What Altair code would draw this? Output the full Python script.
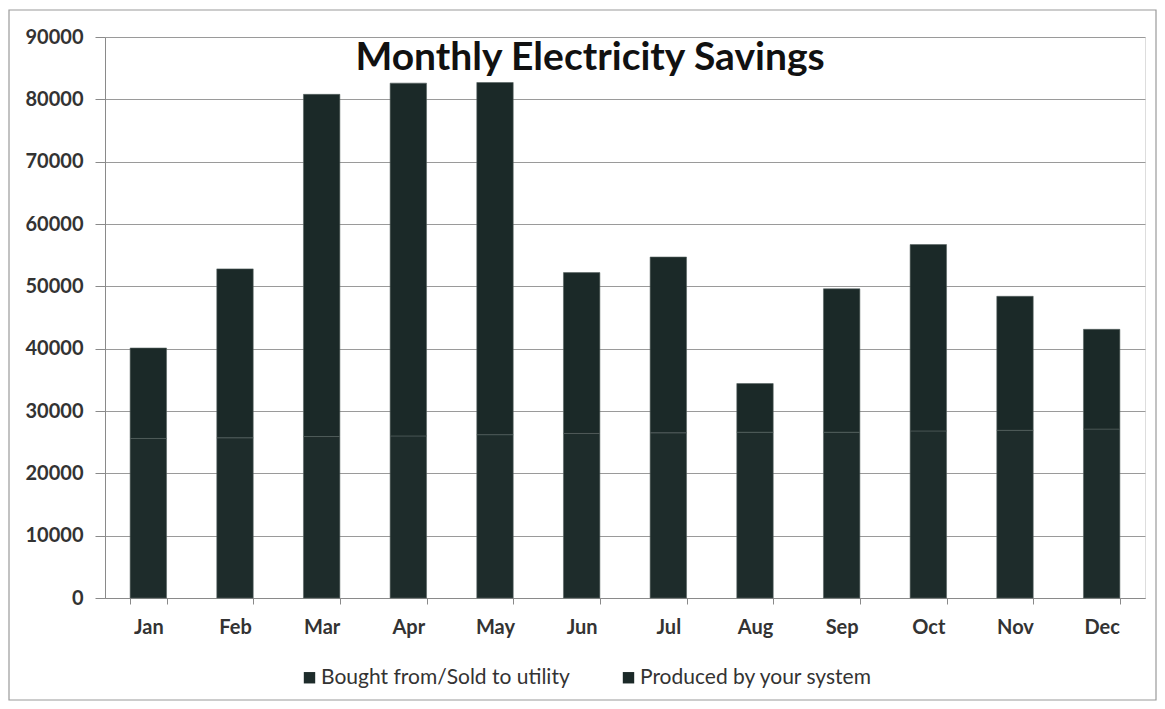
import altair as alt
import pandas as pd

months = ["Jan", "Feb", "Mar", "Apr", "May", "Jun", "Jul", "Aug", "Sep", "Oct", "Nov", "Dec"]
bought = [25600, 25700, 25900, 26000, 26200, 26400, 26500, 26600, 26600, 26800, 26900, 27100]
totals = [40100, 52800, 80800, 82600, 82700, 52200, 54700, 34400, 49600, 56700, 48400, 43100]
produced = [t - b for t, b in zip(totals, bought)]
series = ["Bought from/Sold to utility", "Produced by your system"]
title_text = "Monthly Electricity Savings"

rows = []
for i, m in enumerate(months):
    rows.append({"month": m, "series": series[0], "order": 0, "value": bought[i]})
    rows.append({"month": m, "series": series[1], "order": 1, "value": produced[i]})
df = pd.DataFrame(rows)

FONT = "Lato"
W, H = 1040, 561

frame = alt.Chart(pd.DataFrame({"a": [0]})).mark_rect(
    fill=None, stroke="#9a9a9a", strokeWidth=1.2, clip=False
).encode(
    x=alt.value(-96), x2=alt.value(W + 11),
    y=alt.value(-27), y2=alt.value(H + 102),
)

bars = alt.Chart(df).mark_bar(
    stroke="#56625f", strokeWidth=0.6
).encode(
    x=alt.X("month:N", sort=months, title=None,
            scale=alt.Scale(paddingInner=0.58, paddingOuter=0.29),
            axis=alt.Axis(labelAngle=0, labelFontSize=20, labelFont=FONT,
                          labelFontWeight="bold",
                          labelColor="#333333", labelPadding=13,
                          tickBand="extent", tickSize=6, tickColor="#8a8a8a",
                          domainColor="#8a8a8a", grid=False)),
    y=alt.Y("value:Q", stack="zero", title=None,
            scale=alt.Scale(domain=[0, 90000], nice=False),
            axis=alt.Axis(values=list(range(0, 90001, 10000)), format="d",
                          labelFontSize=20, labelFont=FONT, labelColor="#333333",
                          labelFontWeight="bold",
                          labelPadding=12, tickSize=10, tickColor="#8a8a8a",
                          domainColor="#8a8a8a", gridColor="#9a9a9a",
                          gridWidth=1)),
    color=alt.Color("series:N", sort=series,
                    scale=alt.Scale(domain=series, range=["#1e2c2b", "#1b2928"]),
                    legend=alt.Legend(title=None, orient="none", legendX=194,
                                      legendY=630, direction="horizontal",
                                      symbolType="square", symbolSize=130,
                                      symbolStrokeWidth=0, labelLimit=0,
                                      labelFontSize=21, labelFont=FONT,
                                      labelColor="#333333", columnPadding=48,
                                      labelOffset=1)),
    order=alt.Order("order:Q"),
)

title = alt.Chart(pd.DataFrame({"t": [title_text]})).mark_text(
    font=FONT, fontSize=39, fontWeight="bold", color="#111111",
    align="center", baseline="middle"
).encode(
    text="t:N", x=alt.value(485), y=alt.value(21)
)

chart = alt.layer(frame, bars, title).properties(
    width=W, height=H,
    padding={"left": 97, "top": 29, "right": 12, "bottom": 103},
    autosize=alt.AutoSizeParams(type="none"),
).configure_view(stroke=None).configure(background="white")

chart.save("out.html", embed_options={"renderer": "svg", "actions": False})
